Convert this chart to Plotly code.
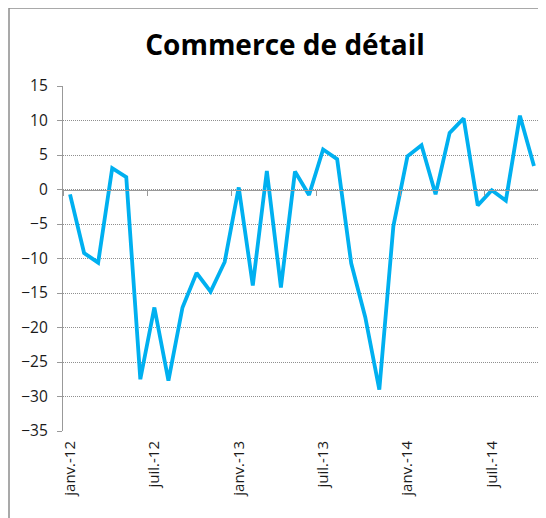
import plotly.graph_objects as go

months = ["janv.", "févr.", "mars", "avr.", "mai", "juin", "juil.", "août", "sept.", "oct.", "nov.", "déc."]
categories = [f"{m}-{y}" for y in ("12", "13", "14") for m in months][:34]
values = [-0.7, -9.2, -10.6, 3.1, 1.8, -27.5, -17.1, -27.7, -17.1, -12.1, -14.8, -10.5,
          0.3, -13.9, 2.7, -14.2, 2.6, -0.8, 5.8, 4.4, -10.7, -18.5, -29.0, -5.3,
          4.8, 6.4, -0.7, 8.2, 10.3, -2.3, -0.1, -1.6, 10.7, 3.4]
label_ticks = categories[::6]
y_ticks = list(range(-35, 16, 5))
title = "Commerce de détail"

# page body has an 8px margin: work in screen pixels and shift
O = 8
W, H = 546 - O, 518 - O
L, R, T, B = 63 - O, 5, 86 - O, 518 - 431
pw, ph = W - L - R, H - T - B
def px(x): return (x - O - L) / pw
def py(y): return (H - B - (y - O)) / ph

font = "'Open Sans', sans-serif"
fig = go.Figure()
fig.add_trace(go.Scatter(x=categories, y=values, mode="lines",
                         line=dict(color="#00B0F0", width=3.8), xaxis="x", yaxis="y",
                         hoverinfo="skip"))
fig.add_trace(go.Scatter(x=categories, y=values, mode="lines", opacity=0,
                         line=dict(width=0), xaxis="x2", yaxis="y", hoverinfo="skip",
                         showlegend=False))

zero_pos = (0 - y_ticks[0]) / (y_ticks[-1] - y_ticks[0])
fig.update_layout(
    width=W, height=H, margin=dict(l=L, r=R, t=T, b=B, autoexpand=False),
    paper_bgcolor="white", plot_bgcolor="white", showlegend=False,
    title=dict(text=f"<b>{title}</b>", xref="container", x=(285 - O) / W, xanchor="center",
               y=1 - (45 - O) / H, yanchor="middle",
               font=dict(family=font, size=28, color="black"), automargin=False),
    xaxis=dict(type="category", categoryorder="array", categoryarray=categories,
               range=[-0.5, len(categories) - 0.5], anchor="free", position=zero_pos,
               showline=True, linecolor="#999999", linewidth=1.3, showgrid=False,
               ticks="outside", tickson="boundaries", dtick=6, ticklen=5, tickcolor="#999999",
               showticklabels=False, zeroline=False, automargin=False),
    xaxis2=dict(type="category", categoryorder="array", categoryarray=categories,
                range=[-0.5, len(categories) - 0.5], overlaying="x", anchor="y", side="bottom",
                tickvals=label_ticks, ticktext=label_ticks, tickangle=-90, ticks="",
                showline=False, showgrid=False, zeroline=False, automargin=False,
                ticklabelstandoff=6,
                tickfont=dict(family=font, size=15, color="#1a1a1a")),
    yaxis=dict(range=[y_ticks[0], y_ticks[-1]], tickvals=y_ticks, showgrid=True,
               gridcolor="#8f8f8f", griddash="1px,1px", gridwidth=1,
               showline=True, linecolor="#999999", linewidth=1.3, ticks="outside", ticklen=5,
               tickcolor="#999999", zeroline=False, automargin=False, ticklabelstandoff=6,
               tickfont=dict(family=font, size=15.5, color="#1a1a1a")),
    shapes=[
        dict(type="line", xref="paper", yref="paper", x0=px(9), x1=px(9), y0=py(8), y1=py(530),
             line=dict(color="#8C8C8C", width=1.5)),
        dict(type="line", xref="paper", yref="paper", x0=px(9), x1=px(560), y0=py(8), y1=py(8),
             line=dict(color="#8C8C8C", width=1.5)),
    ],
)
fig.write_html("out.html")
